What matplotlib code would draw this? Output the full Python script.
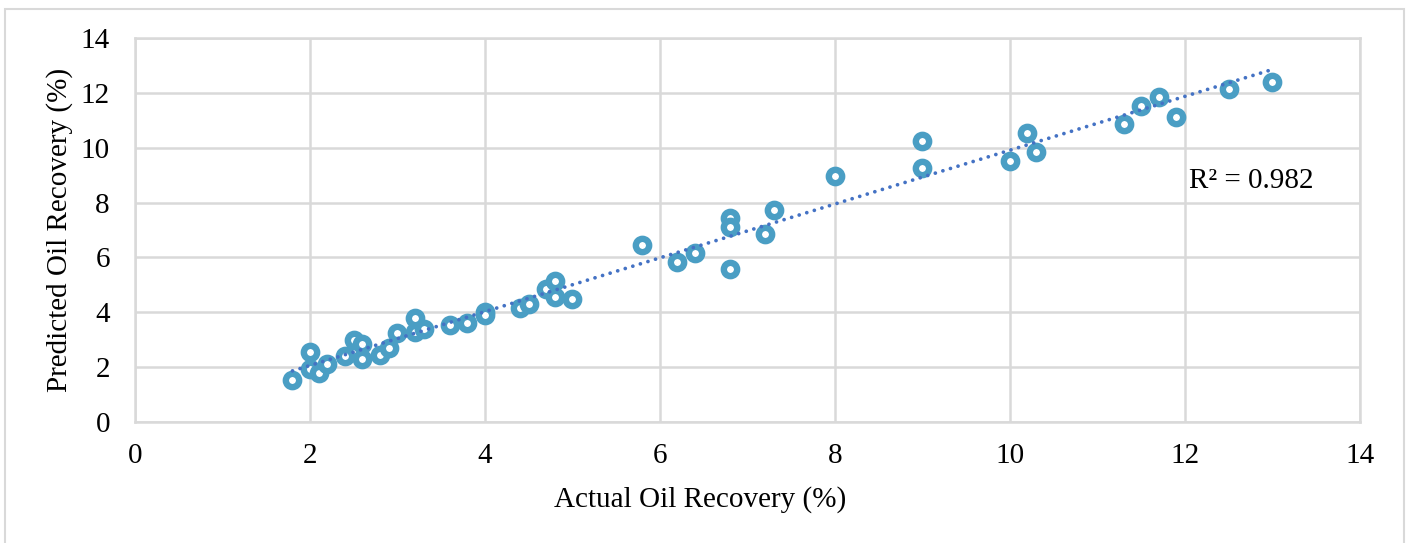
import numpy as np
import matplotlib.pyplot as plt
from matplotlib.patches import Rectangle

# values
actual = [1.8, 2.0, 2.0, 2.1, 2.2, 2.4, 2.5, 2.6, 2.6, 2.8, 2.9, 3.0, 3.2, 3.2,
          3.3, 3.6, 3.8, 4.0, 4.0, 4.4, 4.5, 4.7, 4.8, 4.8, 5.0,
          5.8, 6.2, 6.4, 6.8, 6.8, 6.8, 7.2, 7.3, 8.0,
          9.0, 9.0, 10.0, 10.2, 10.3, 11.3, 11.5, 11.7, 11.9, 12.5, 13.0]
predicted = [1.55, 2.55, 1.95, 1.8, 2.1, 2.4, 3.0, 2.85, 2.3, 2.45, 2.7, 3.25, 3.8, 3.3,
             3.4, 3.55, 3.6, 4.0, 3.9, 4.15, 4.3, 4.85, 5.15, 4.55, 4.5,
             6.45, 5.85, 6.15, 7.45, 7.1, 5.58, 6.85, 7.73, 8.97,
             10.25, 9.25, 9.52, 10.55, 9.85, 10.86, 11.52, 11.85, 11.12, 12.14, 12.4]
r2_text = "R\u00b2 = 0.982"
xlabel = "Actual Oil Recovery (%)"
ylabel = "Predicted Oil Recovery (%)"

plt.rcParams["font.family"] = ["Liberation Serif", "DejaVu Serif"]
FS = 21

fig = plt.figure(figsize=(14.09, 5.43), dpi=100)
ax = fig.add_axes([0.0958, 0.2228, 0.8694, 0.7072])

# outer chart border
fig.patches.append(Rectangle((5 / 1409, -0.01), 1399 / 1409, 1 - 9 / 543 + 0.01,
                             transform=fig.transFigure, fill=False,
                             edgecolor="#D9D9D9", linewidth=1.5))

ax.plot(actual, predicted, "o", markersize=9.6, markeredgewidth=4.6,
        markerfacecolor="white", markeredgecolor="#4A9EC4", zorder=3,
        linestyle="none")

# linear trendline
a, b = np.polyfit(actual, predicted, 1)
xs = np.array([min(actual), max(actual)])
ax.plot(xs, a * xs + b, color="#4472C4", linewidth=2.7,
        linestyle=(0, (0.01, 2.1)), dash_capstyle="round", zorder=4)

ax.text(12.05, 8.8, r2_text, fontsize=FS, va="center", ha="left")

ax.set_xlim(0, 14)
ax.set_ylim(0, 14)
ax.set_xticks(range(0, 15, 2))
ax.set_yticks(range(0, 15, 2))
ax.tick_params(length=0, labelsize=FS)
ax.tick_params(axis="x", pad=15)
ax.tick_params(axis="y", pad=18)
ax.grid(True, color="#D9D9D9", linewidth=1.8)
ax.set_axisbelow(True)
for s in ax.spines.values():
    s.set_color("#D9D9D9")
    s.set_linewidth(1.8)

ax.set_xlabel(xlabel, fontsize=FS, va="center")
ax.xaxis.set_label_coords(0.461, -0.203)
ax.set_ylabel(ylabel, fontsize=FS, va="center")
ax.yaxis.set_label_coords(-0.0612, 0.5)

fig.savefig("out.png", dpi=100)
